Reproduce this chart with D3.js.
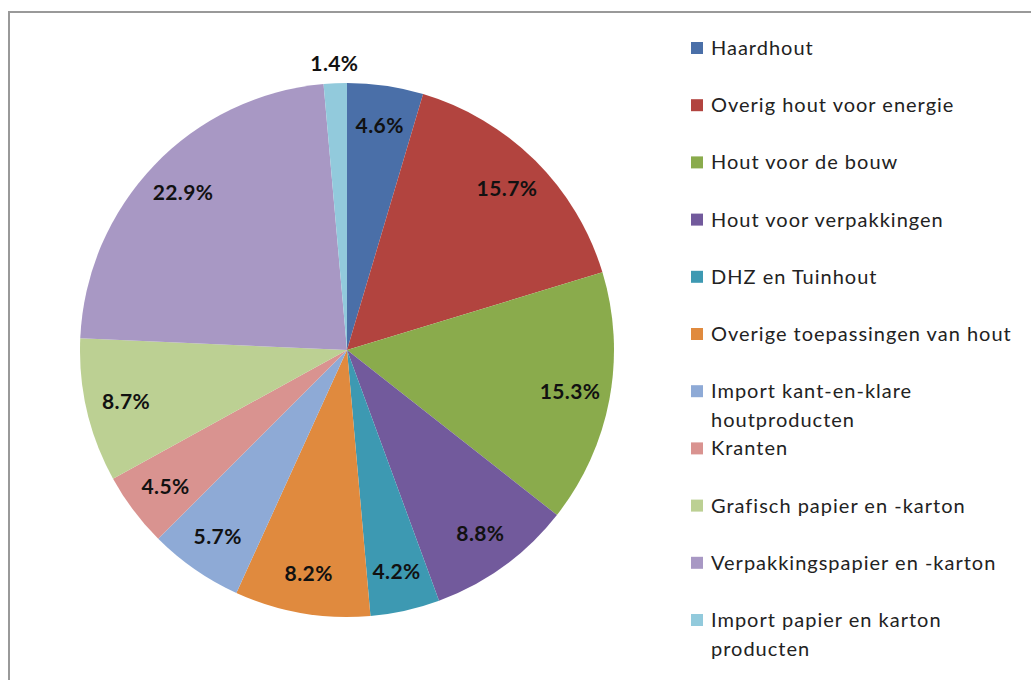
<!DOCTYPE html>
<html><head><meta charset="utf-8">
<script src="https://cdn.jsdelivr.net/npm/d3@7"></script>
<style>body{margin:0;background:#fff;}svg{display:block;font-family:Lato,"Open Sans",sans-serif;}</style>
</head><body><svg id="c" width="1031" height="680"></svg>
<script>
const categories = ["Haardhout","Overig hout voor energie","Hout voor de bouw","Hout voor verpakkingen","DHZ en Tuinhout","Overige toepassingen van hout","Import kant-en-klare houtproducten","Kranten","Grafisch papier en -karton","Verpakkingspapier en -karton","Import papier en karton producten"];
const values = [4.6,15.7,15.3,8.8,4.2,8.2,5.7,4.5,8.7,22.9,1.4];
const legendLines = [["Haardhout"],["Overig hout voor energie"],["Hout voor de bouw"],["Hout voor verpakkingen"],["DHZ en Tuinhout"],["Overige toepassingen van hout"],["Import kant-en-klare","houtproducten"],["Kranten"],["Grafisch papier en -karton"],["Verpakkingspapier en -karton"],["Import papier en karton","producten"]];
const colors = ["#4a6fa8","#b2443f","#8aab4c","#725a9c","#3d99b2","#e08a3e","#8eaad6","#d99390","#bcd093","#a898c4","#92cadc"];

const svg = d3.select("#c");
svg.append("path").attr("d","M9,690 V12 H1040").attr("fill","none").attr("stroke","#999").attr("stroke-width",2);

const cx=347, cy=350, R=267;
const pie = d3.pie().sort(null).value(d=>d)(values);
const arc = d3.arc().innerRadius(0).outerRadius(R);
const g = svg.append("g").attr("transform",`translate(${cx},${cy})`);
g.selectAll("path").data(pie).join("path").attr("d",arc).attr("fill",(d,i)=>colors[i]);
const inner = d3.arc().innerRadius(R*0.85).outerRadius(R*0.85);
const outer = d3.arc().innerRadius(R+20).outerRadius(R+20);
g.selectAll("text").data(pie).join("text")
  .attr("transform",d=>`translate(${(d.value<2?outer:inner).centroid(d)})`)
  .attr("text-anchor","middle").attr("dy","0.35em")
  .attr("font-weight","bold").attr("font-size",21).attr("letter-spacing",0.4).attr("fill","#111")
  .text(d=>d.value.toFixed(1)+"%");

const y = d3.scalePoint().domain(categories).range([48,620]);
const lg = svg.append("g");
categories.forEach((c,i)=>{
  const yy=y(c);
  lg.append("rect").attr("x",691).attr("y",yy-6).attr("width",12).attr("height",12).attr("fill",colors[i]);
  const t=lg.append("text").attr("x",711).attr("y",yy).attr("font-size",20).attr("letter-spacing",1).attr("fill","#222");
  legendLines[i].forEach((l,j)=>t.append("tspan").attr("x",711).attr("dy",j===0?"0.35em":"28.5").text(l));
});
</script></body></html>
